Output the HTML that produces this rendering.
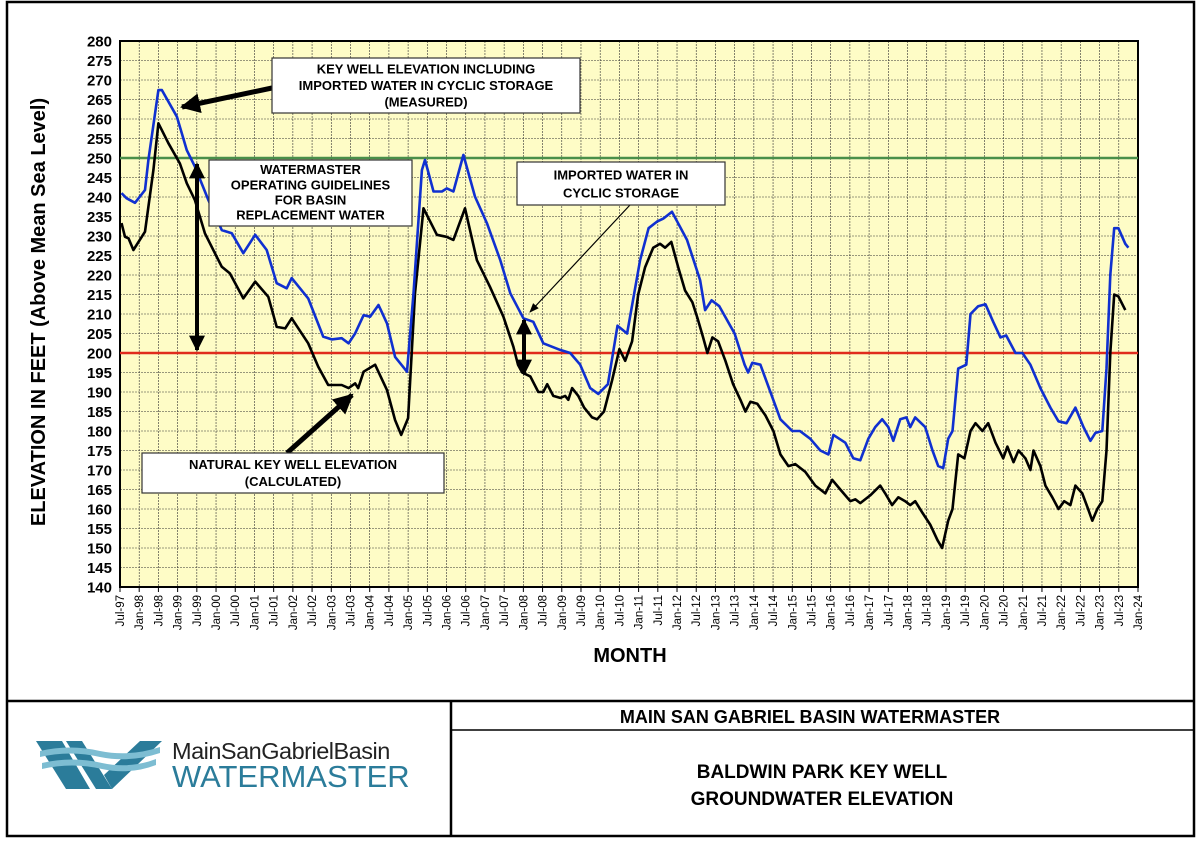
<!DOCTYPE html>
<html><head><meta charset="utf-8">
<style>
html,body{margin:0;padding:0;background:#fff;}
body{width:1200px;height:844px;overflow:hidden;font-family:"Liberation Sans",Arial,sans-serif;}
</style></head>
<body>
<svg id="chart" width="1200" height="844" xmlns="http://www.w3.org/2000/svg" font-family="Liberation Sans, Arial, sans-serif">
<rect x="7" y="2" width="1187" height="834" fill="#fff" stroke="#000" stroke-width="2.5"/>
<g id="plot"></g>
<!-- title block -->
<line x1="7" y1="701" x2="1194" y2="701" stroke="#000" stroke-width="2.5"/>
<line x1="451" y1="701" x2="451" y2="836" stroke="#000" stroke-width="2.5"/>
<line x1="451" y1="730" x2="1194" y2="730" stroke="#000" stroke-width="1.5"/>
<text x="810" y="723" text-anchor="middle" font-size="18" font-weight="bold">MAIN SAN GABRIEL BASIN WATERMASTER</text>
<text x="822" y="778" text-anchor="middle" font-size="19" font-weight="bold">BALDWIN PARK KEY WELL</text>
<text x="822" y="805" text-anchor="middle" font-size="19" font-weight="bold">GROUNDWATER ELEVATION</text>
<g>
  <path d="M36 741 L62 741 L90 789 L66 789 Z" fill="#2b7c9a"/>
  <path d="M66 741 L82 741 L112 789 L96 789 Z" fill="#2b7c9a"/>
  <path d="M112 789 L104 775 L140 741 L162 741 Z" fill="#2b7c9a"/>
  <path d="M40 751 Q70 744 100 751 Q130 757 160 747 L160 753 Q130 763 100 757 Q70 750 40 757Z" fill="#7dbdd2"/>
  <path d="M42 763 Q72 756 102 763 Q130 769 156 759 L156 765 Q130 775 102 769 Q72 762 42 769Z" fill="#7dbdd2"/>
  <text x="172" y="759" font-size="23.5" fill="#222" font-family="Liberation Sans, sans-serif" letter-spacing="-0.5">MainSanGabrielBasin</text>
  <text x="172" y="787" font-size="31" fill="#2b7c9a" font-family="Liberation Sans, sans-serif">WATERMASTER</text>
</g>
</svg>
<script>
const yTicks=[140,145,150,155,160,165,170,175,180,185,190,195,200,205,210,215,220,225,230,235,240,245,250,255,260,265,270,275,280];
const xTickLabels=[];
(function(){let yr=1997;for(let i=0;i<54;i++){const isJul=i%2===0;if(!isJul)yr++;xTickLabels.push((isJul?"Jul-":"Jan-")+String(yr%100).padStart(2,"0"));}})();
const guidelineUpper=250;
const guidelineLower=200;
const measuredDates=[1997.54,1997.67,1997.89,1998.15,1998.24,1998.5,1998.59,1998.98,1999.24,1999.45,1999.8,2000.15,2000.41,2000.71,2001.02,2001.32,2001.58,2001.84,2001.97,2002.4,2002.79,2003.01,2003.27,2003.45,2003.62,2003.84,2004.01,2004.23,2004.45,2004.66,2004.97,2005.14,2005.36,2005.44,2005.66,2005.88,2006.01,2006.18,2006.44,2006.74,2007.05,2007.4,2007.66,2008.0,2008.26,2008.52,2008.96,2009.22,2009.48,2009.74,2009.95,2010.2,2010.45,2010.7,2011.04,2011.26,2011.48,2011.65,2011.87,2012.26,2012.6,2012.73,2012.9,2013.1,2013.5,2013.76,2013.85,2013.96,2014.17,2014.43,2014.69,2015.0,2015.2,2015.47,2015.73,2015.94,2016.07,2016.38,2016.59,2016.77,2016.98,2017.16,2017.34,2017.5,2017.63,2017.81,2017.97,2018.07,2018.2,2018.46,2018.65,2018.8,2018.93,2019.06,2019.17,2019.32,2019.53,2019.64,2019.84,2020.03,2020.23,2020.42,2020.57,2020.81,2020.99,2021.2,2021.46,2021.72,2021.93,2022.14,2022.37,2022.58,2022.76,2022.89,2023.07,2023.18,2023.28,2023.38,2023.49,2023.67,2023.75];
const measuredValues=[241,239.7,238.5,241.8,249.5,267.4,267.4,260.6,252,247.8,239.2,231.5,230.7,225.6,230.3,226.4,217.9,216.6,219.2,214,204.2,203.5,203.8,202.5,205,209.7,209.3,212.3,207.6,199,195.2,215.3,246.9,249.5,241.4,241.4,242.2,241.4,250.8,240.1,233.3,223.8,215.3,208.9,208,202.5,200.8,200,197,191,189.5,192,207,205,223.8,232,233.7,234.5,236.2,229,218.7,211,213.5,212,205,197,195,197.5,197,190,183,180,180,178,175,174,179,177,173,172.5,178,181,183,181,177.5,183,183.5,181,183.5,181,175,171,170.5,178,180,196,197,210,212,212.5,208,204,204.5,200,200,197,191,186,182.5,182,186,181,177.5,179.5,180,196,220,232,232,228,227];
const naturalDates=[1997.54,1997.63,1997.72,1997.85,1998.15,1998.37,1998.5,1998.76,1999.06,1999.24,1999.45,1999.71,1999.97,2000.15,2000.36,2000.71,2001.02,2001.36,2001.58,2001.8,2001.97,2002.4,2002.66,2002.92,2003.27,2003.45,2003.62,2003.7,2003.84,2004.14,2004.45,2004.66,2004.82,2005.0,2005.18,2005.31,2005.4,2005.75,2006.0,2006.18,2006.48,2006.79,2007.13,2007.48,2007.74,2007.86,2007.97,2008.18,2008.39,2008.52,2008.62,2008.78,2008.96,2009.09,2009.17,2009.27,2009.43,2009.58,2009.79,2009.92,2010.1,2010.31,2010.5,2010.65,2010.83,2010.99,2011.17,2011.38,2011.56,2011.69,2011.85,2012.03,2012.21,2012.4,2012.53,2012.68,2012.79,2012.92,2013.07,2013.26,2013.46,2013.65,2013.78,2013.91,2014.09,2014.3,2014.51,2014.69,2014.9,2015.08,2015.34,2015.6,2015.86,2016.04,2016.25,2016.51,2016.64,2016.77,2017.03,2017.29,2017.42,2017.6,2017.76,2017.94,2018.07,2018.2,2018.39,2018.59,2018.78,2018.9,2019.06,2019.17,2019.32,2019.48,2019.64,2019.77,2019.95,2020.1,2020.29,2020.49,2020.6,2020.76,2020.89,2021.07,2021.2,2021.28,2021.46,2021.59,2021.77,2021.93,2022.08,2022.24,2022.37,2022.55,2022.7,2022.81,2022.94,2023.07,2023.18,2023.28,2023.38,2023.49,2023.67];
const naturalValues=[233.3,229.8,229.4,226.4,231.1,246.9,258.9,253.8,248.6,243.5,239.2,230.7,225.6,222.1,220.4,214,218.3,214.4,206.7,206.3,208.9,202.5,196.5,191.8,191.8,191,192.2,191,195.2,197,190.5,182.8,179,183.3,215.3,228.1,237.1,230.3,229.8,229,237.1,223.8,217,209.3,201.6,197,195,194,190,190,192,189,188.5,189,188,191,189,186,183.5,183,185,193,201,198,203,215,222,227,228,227,228.5,222,216,213,209,204,200,204,203,198,192,188,185,187.5,187,184,180,174,171,171.5,169.5,166,164,167.5,165,162,162.5,161.5,163.5,166,164,161,163,162,161,162,159,156,152,150,157,160,174,173,180,182,180,182,177,173,176,172,175,173,170,175,171,166,163,160,162,161,166,164,160,157,160,162,175,200,215,214.5,211];

const NS="http://www.w3.org/2000/svg";
const L=120,R=1138,T=41,B=587,X0=1997.5,X1=2024.0,Y0=140,Y1=280;
const xs=t=>L+(t-X0)/(X1-X0)*(R-L);
const ys=v=>B-(v-Y0)/(Y1-Y0)*(B-T);
const plot=document.getElementById('plot');
function mk(tag,attrs,parent){const e=document.createElementNS(NS,tag);for(const k in attrs)e.setAttribute(k,attrs[k]);(parent||plot).appendChild(e);return e;}

const bg=mk('rect',{x:L,y:T,width:R-L,height:B-T,fill:'#fefcc6'});



for(let i=0;i<xTickLabels.length;i++){
  const x=L+i*(R-L)/(xTickLabels.length-1);
  const g=mk('line',{x1:x,y1:T,x2:x,y2:B,stroke:'#333','stroke-width':0.6,'stroke-dasharray':'2,1'});
  
  
  const tk=mk('line',{x1:x,y1:B,x2:x,y2:B+5,stroke:'#000','stroke-width':1});
  
  
  const t=mk('text',{x:0,y:0,transform:`translate(${x+4},${B+8}) rotate(-90)`,'text-anchor':'end','font-size':11.5,fill:'#000'});
  t.textContent=xTickLabels[i];
  
  
}
yTicks.forEach(v=>{
  const y=ys(v);
  const g=mk('line',{x1:L,y1:y,x2:R,y2:y,stroke:'#333','stroke-width':0.6,'stroke-dasharray':'2,1'});
  
  
  const t=mk('text',{x:112,y:y+5.5,'text-anchor':'end','font-size':15,'font-weight':'bold'});
  t.textContent=v;
  
  
});
const fr=mk('rect',{x:L,y:T,width:R-L,height:B-T,fill:'none',stroke:'#000','stroke-width':2});



const gU=mk('line',{x1:L,y1:ys(guidelineUpper),x2:R,y2:ys(guidelineUpper),stroke:'#4a8f4a','stroke-width':2.5});


const gL=mk('line',{x1:L,y1:ys(guidelineLower),x2:R,y2:ys(guidelineLower),stroke:'#e02b1c','stroke-width':2.5});



function line(d,v,color,name){
  const p=mk('path',{d:d.map((t,i)=>(i?'L':'M')+xs(t).toFixed(1)+' '+ys(v[i]).toFixed(1)).join(' '),fill:'none',stroke:color,'stroke-width':2.6,'stroke-linejoin':'round'});
  
  
}
line(naturalDates,naturalValues,'#000','natural-elevation-line');
line(measuredDates,measuredValues,'#1030d0','measured-elevation-line');

const defs=mk('defs',{});
const m=mk('marker',{id:'ah',viewBox:'0 0 10 10',refX:9,refY:5,markerWidth:4,markerHeight:4,orient:'auto-start-reverse'},defs);
mk('path',{d:'M0 0 L10 5 L0 10 Z',fill:'#000'},m);
const m2=mk('marker',{id:'ah2',viewBox:'0 0 10 10',refX:9,refY:5,markerWidth:10,markerHeight:8,orient:'auto'},defs);
mk('path',{d:'M0 1 L10 5 L0 9 Z',fill:'#000'},m2);
function arrow(x1,y1,x2,y2,w,name,both,mkr){
  const a=mk('line',{x1,y1,x2,y2,stroke:'#000','stroke-width':w,'marker-end':`url(#${mkr||'ah'})`});
  if(both)a.setAttribute('marker-start',`url(#${mkr||'ah'})`);
  
  
}
function box(x,y,w,h,lines,name){
  const g=mk('g',{});
  
  
  mk('rect',{x,y,width:w,height:h,fill:'#fff',stroke:'#333','stroke-width':1.2},g);
  const lh=h/(lines.length+0.35);
  lines.forEach((s,i)=>{const t=mk('text',{x:x+w/2,y:y+lh*(i+1)-1,'text-anchor':'middle','font-size':13,'font-weight':'bold'},g);t.textContent=s;});
}
arrow(272,88,182,107,5,'measured-arrow');
box(272,58,308,55,['KEY WELL ELEVATION INCLUDING','IMPORTED WATER IN CYCLIC STORAGE','(MEASURED)'],'measured-annotation');
arrow(197,200,197,164,4,'guideline-arrow-up');
arrow(197,200,197,350,4,'guideline-arrow-down');
box(209,160,203,66,['WATERMASTER','OPERATING GUIDELINES','FOR BASIN','REPLACEMENT WATER'],'guidelines-annotation');
arrow(630,205,530,312,1.2,'imported-thin-arrow',false,'ah2');
arrow(524,345,524,320,4,'imported-arrow-up');
arrow(524,345,524,374,4,'imported-arrow-down');
box(517,162,208,43,['IMPORTED WATER IN','CYCLIC STORAGE'],'imported-annotation');
arrow(287,453,352,395,5,'natural-arrow');
box(142,453,302,40,['NATURAL KEY WELL ELEVATION','(CALCULATED)'],'natural-annotation');

const yt=mk('text',{x:0,y:0,transform:'translate(45,312) rotate(-90)','text-anchor':'middle','font-size':20,'font-weight':'bold'});
yt.textContent='ELEVATION IN FEET (Above Mean Sea Level)';


const xt=mk('text',{x:630,y:662,'text-anchor':'middle','font-size':20,'font-weight':'bold'});
xt.textContent='MONTH';


</script>
</body></html>
